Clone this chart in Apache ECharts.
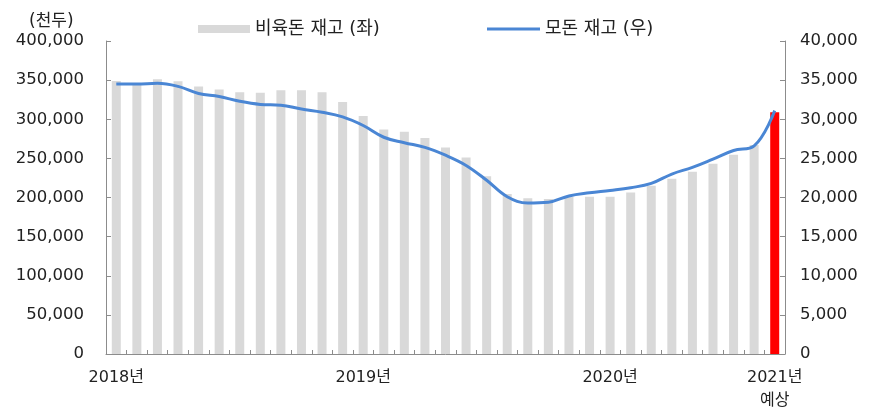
<!DOCTYPE html>
<html>
<head>
<meta charset="utf-8">
<script src="https://cdn.jsdelivr.net/npm/echarts@6/dist/echarts.min.js"></script>
<style>
html, body { margin: 0; padding: 0; background: #fff; }
#chart { width: 871px; height: 412px; }
</style>
</head>
<body>
<div id="chart"></div>
<script>
// 비육돈 / 모돈 재고 (월별, 마지막은 2021년 예상)
var categories = [
    '2018.01', '2018.02', '2018.03', '2018.04', '2018.05', '2018.06', '2018.07', '2018.08', '2018.09', '2018.10', '2018.11', '2018.12',
    '2019.01', '2019.02', '2019.03', '2019.04', '2019.05', '2019.06', '2019.07', '2019.08', '2019.09', '2019.10', '2019.11', '2019.12',
    '2020.01', '2020.02', '2020.03', '2020.04', '2020.05', '2020.06', '2020.07', '2020.08',
    '2021 예상'
];
var tickLabels = [
    '2018년', '', '', '', '', '', '', '', '', '', '', '',
    '2019년', '', '', '', '', '', '', '', '', '', '', '',
    '2020년', '', '', '', '', '', '', '',
    '2021년\n예상'
];
var fatteningStock = [
    349000, 345000, 351000, 348500, 342000, 338000, 334500, 334000, 337000, 337000, 334500, 322000,
    304000, 287000, 284000, 276000, 264000, 251000, 227000, 204500, 199000, 198000, 201000, 201000,
    201000, 206500, 215000, 224000, 233000, 243000, 254500, 267000,
    309000
];
var sowStock = [
    34500, 34500, 34600, 34200, 33300, 32900, 32300, 31900, 31800, 31300, 30900, 30300,
    29200, 27700, 27000, 26400, 25400, 24100, 22200, 20100, 19300, 19400, 20200, 20600,
    20900, 21250, 21800, 23000, 23850, 24900, 26000, 26600,
    31100
];
var leftTicks = [0, 400000, 50000];
var rightTicks = [0, 40000, 5000];

var FONT = "'DejaVu Sans', 'Noto Sans CJK KR', sans-serif";
var TEXT = '#222';
var AXIS = '#8c8c8c';

function commas(v) {
    return String(v).replace(/\B(?=(\d{3})+(?!\d))/g, ',');
}

var chart = echarts.init(document.getElementById('chart'));
var lastIdx = fatteningStock.length - 1;

var option = {
    animation: false,
    textStyle: { fontFamily: FONT },
    title: {
        text: '(천두)',
        left: 24,
        top: 8,
        textStyle: { fontFamily: FONT, fontSize: 17, fontWeight: 'normal', color: TEXT }
    },
    legend: [{
        data: ['비육돈 재고 (좌)'],
        left: 193,
        top: 15,
        icon: 'rect',
        itemWidth: 52,
        itemHeight: 8,
        itemGap: 5,
        textStyle: { fontFamily: FONT, fontSize: 18, color: TEXT }
    }, {
        data: [{ name: '모돈 재고 (우)', icon: 'rect' }],
        left: 482,
        top: 15,
        itemWidth: 53,
        itemHeight: 3,
        textStyle: { fontFamily: FONT, fontSize: 18, color: TEXT }
    }],
    grid: {
        left: 106,
        right: 86,
        top: 41,
        bottom: 58
    },
    xAxis: {
        type: 'category',
        data: categories,
        boundaryGap: true,
        axisLine: { lineStyle: { color: AXIS, width: 1 } },
        axisTick: { show: true, inside: true, length: 4, interval: 0, lineStyle: { color: AXIS } },
        axisLabel: {
            interval: 0,
            margin: 12,
            fontSize: 16,
            lineHeight: 23,
            color: TEXT,
            fontFamily: FONT,
            formatter: function (v, i) { return tickLabels[i]; }
        },
        splitLine: { show: false }
    },
    yAxis: [{
        type: 'value',
        min: leftTicks[0],
        max: leftTicks[1],
        interval: leftTicks[2],
        axisLine: { show: true, lineStyle: { color: AXIS } },
        axisTick: { show: true, inside: true, length: 5, lineStyle: { color: AXIS } },
        axisLabel: { margin: 22, fontSize: 16.5, color: TEXT, fontFamily: FONT, formatter: commas },
        splitLine: { show: false }
    }, {
        type: 'value',
        min: rightTicks[0],
        max: rightTicks[1],
        interval: rightTicks[2],
        axisLine: { show: true, lineStyle: { color: AXIS } },
        axisTick: { show: true, inside: true, length: 5, lineStyle: { color: AXIS } },
        axisLabel: { margin: 15, fontSize: 16.5, color: TEXT, fontFamily: FONT, formatter: commas },
        splitLine: { show: false }
    }],
    series: [{
        name: '비육돈 재고 (좌)',
        type: 'bar',
        yAxisIndex: 0,
        barWidth: 9,
        itemStyle: { color: '#d9d9d9' },
        data: fatteningStock.map(function (v, i) {
            return i === lastIdx ? { value: v, itemStyle: { color: '#ff0000' } } : v;
        })
    }, {
        name: '모돈 재고 (우)',
        type: 'line',
        yAxisIndex: 1,
        smooth: 0.4,
        symbol: 'none',
        lineStyle: { color: '#4a86d4', width: 3 },
        itemStyle: { color: '#4a86d4' },
        data: sowStock
    }]
};
chart.setOption(option, true);
</script>
</body>
</html>
